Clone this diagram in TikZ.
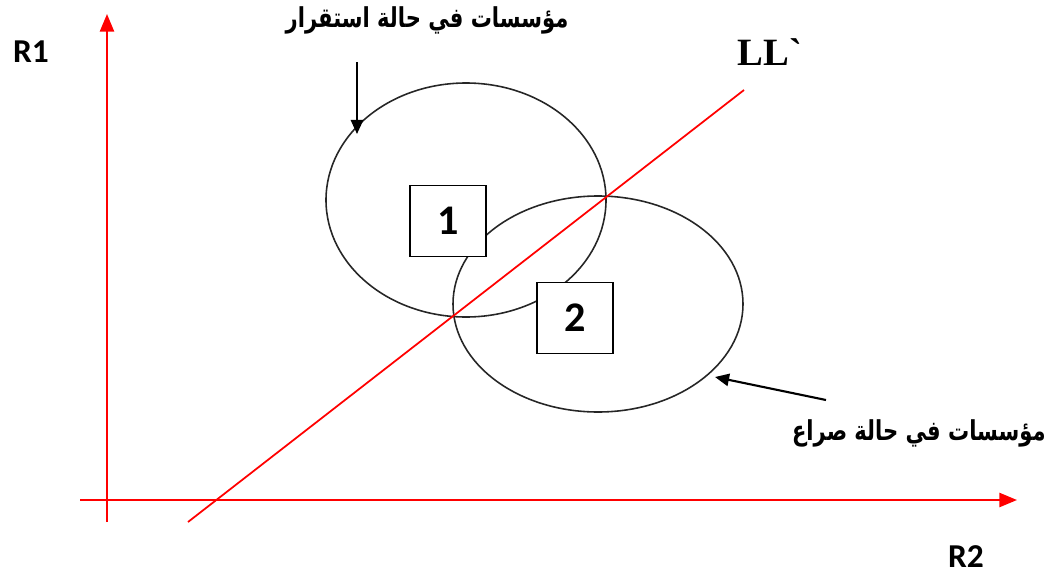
\documentclass[tikz,border=0pt]{standalone}
\usepackage{fontspec}
\usepackage{graphicx}
\setmainfont{Liberation Serif}
\newfontfamily\llfont{Liberation Serif}
\newfontfamily\arabicfont[Script=Arabic]{DejaVu Sans}
\newfontfamily\calib{Carlito}
\TeXXeTstate=1
\usetikzlibrary{arrows.meta}
\newcommand{\artext}[1]{\scalebox{1}[1.3]{\beginR #1\endR}}
\begin{document}
\begin{tikzpicture}[x=0.02cm,y=-0.02cm,
  axis/.style={red,line width=1.2pt,-{Triangle[length=10pt,width=8pt]}},
  oval/.style={draw=black!85,line width=0.9pt},
  numbox/.style={draw,line width=1pt,fill=white,minimum width=1.52cm,minimum height=1.42cm,font=\calib\fontsize{24}{26}\selectfont\bfseries,inner sep=0pt},
  ptr/.style={line width=1.2pt,-{Triangle[length=8pt,width=7pt]}},
  lab/.style={font=\calib\fontsize{19}{22}\selectfont\bfseries,inner sep=0pt},
  arlab/.style={font=\arabicfont\fontsize{12}{14}\selectfont\bfseries,inner sep=0pt}]
\useasboundingbox (0,0) rectangle (1051,575);
% axes
\coordinate (ybot) at (107,522);
\coordinate (ytop) at (107,14);
\coordinate (xleft) at (80,500);
\coordinate (xright) at (1017,500);
\draw[axis] (ybot) -- (ytop);
\draw[axis] (xleft) -- (xright);
\node[lab] (r1) at (31,52) {R1};
\node[lab] (r2) at (966,557) {R2};
% ellipses
\draw[oval] (466,200) ellipse [x radius=140,y radius=117];
\draw[oval] (598,304) ellipse [x radius=145,y radius=108];
% LL line
\coordinate (lla) at (188,522);
\coordinate (llb) at (744,90);
\draw[red,line width=1pt] (lla) -- (llb);
\node[font=\llfont\fontsize{22}{24}\selectfont\bfseries,inner sep=0pt] (ll) at (770,52) {LL`};
% boxes
\node[numbox] (b1) at (448,221) {1};
\node[numbox] (b2) at (575,318) {2};
% labels
\node[arlab] (t1) at (427,20) {\artext{مؤسسات في حالة استقرار}};
\coordinate (a1s) at (357,62);
\coordinate (a1e) at (357,134);
\draw[ptr] (a1s) -- (a1e);
\node[arlab,anchor=east] (t2) at (1046,433) {\artext{مؤسسات في حالة صراع}};
\coordinate (a2s) at (826,400);
\coordinate (a2e) at (715,377);
\draw[ptr] (a2s) -- (a2e);
\end{tikzpicture}
\end{document}
